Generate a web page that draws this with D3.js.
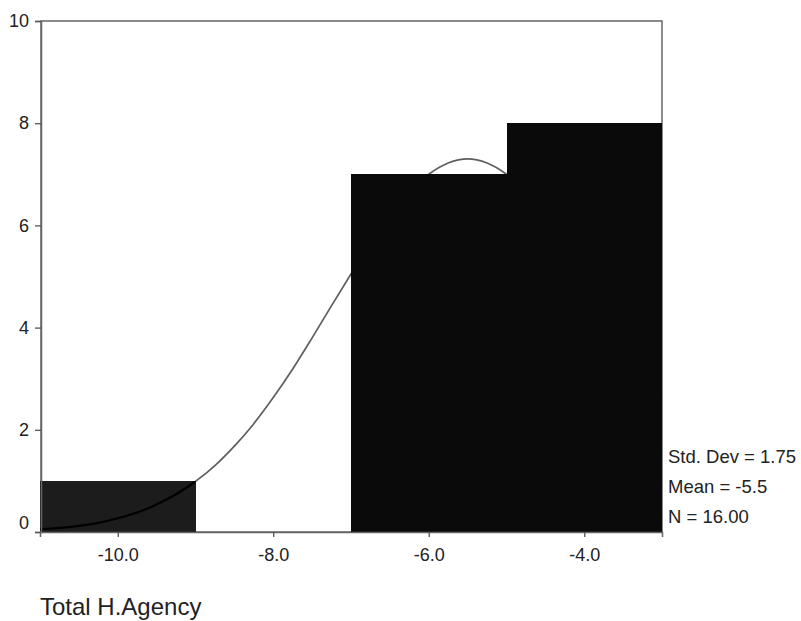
<!DOCTYPE html>
<html><head><meta charset="utf-8">
<script src="https://cdn.jsdelivr.net/npm/d3@7"></script>
<style>body{margin:0;background:#fff}svg{display:block}</style>
</head><body>
<svg id="c" width="801" height="621"></svg>
<script>
// Histogram bins (lower edge, upper edge) and counts
const binStart = [-11, -9, -7, -5];
const binEnd   = [-9, -7, -5, -3];
const counts   = [1, 0, 7, 8];
// Normal curve points
const curveX = [-11,-10.75,-10.5,-10.25,-10,-9.75,-9.5,-9.25,-9,-8.75,-8.5,-8.25,-8,-7.75,-7.5,-7.25,-7,-6.75,-6.5,-6.25,-6,-5.75,-5.5,-5.25,-5,-4.75,-4.5,-4.25,-4,-3.75,-3.5,-3.25,-3];
const curveY = [0.05,0.08,0.12,0.18,0.27,0.38,0.54,0.74,0.99,1.30,1.68,2.12,2.63,3.19,3.80,4.43,5.05,5.65,6.20,6.66,7.00,7.22,7.30,7.22,7.00,6.66,6.20,5.65,5.05,4.43,3.80,3.19,2.63];
const xTicks = [-10, -8, -6, -4];
const yTicks = [0, 2, 4, 6, 8, 10];
const statsLines = ["Std. Dev = 1.75", "Mean = -5.5", "N = 16.00"];
const xTitle = "Total H.Agency";

const svg = d3.select("#c");
const L = 41, R = 662, T = 21, B = 532;
const x = d3.scaleLinear().domain([-11, -3]).range([L - 1, R]);
const y = d3.scaleLinear().domain([0, 10]).range([B, T]);
const font = "'Liberation Sans', Arial, sans-serif";

// frame
svg.append("rect").attr("x", L).attr("y", T).attr("width", R - L).attr("height", B - T)
  .attr("fill", "none").attr("stroke", "#666").attr("stroke-width", 1.5);

const bins = counts.map((c, i) => ({a: binStart[i], b: binEnd[i], c}));

const pts = curveX.map((v, i) => [v, curveY[i]]);
const line = d3.line().x(d => x(d[0])).y(d => y(d[1])).curve(d3.curveCatmullRom);
svg.append("path").attr("d", line(pts)).attr("fill", "none")
  .attr("stroke", "#5e5e5e").attr("stroke-width", 1.7);

svg.append("g").attr("shape-rendering", "crispEdges")
  .selectAll("rect").data(bins.filter(d => d.c > 0)).join("rect")
  .attr("x", d => x(d.a)).attr("y", d => y(d.c))
  .attr("width", d => x(d.b) - x(d.a)).attr("height", d => y(0) - y(d.c))
  .attr("fill", (d, i) => i === 0 ? "#1c1c1c" : "#0a0a0a");

// curve visible through the first (lighter) bar only
svg.append("defs").append("clipPath").attr("id", "barclip")
  .selectAll("rect").data(bins.filter((d, i) => i === 0)).join("rect")
  .attr("x", d => x(d.a)).attr("y", d => y(d.c))
  .attr("width", d => x(d.b) - x(d.a)).attr("height", d => y(0) - y(d.c));
svg.append("path").attr("d", line(pts)).attr("fill", "none")
  .attr("clip-path", "url(#barclip)")
  .attr("stroke", "#000").attr("stroke-width", 2.2);

// axes
const yAxis = svg.append("g").attr("transform", `translate(${L},0)`)
  .call(d3.axisLeft(y).tickValues(yTicks).tickFormat(d3.format("d")).tickSize(6).tickPadding(6));
const xAxis = svg.append("g").attr("transform", `translate(0,${B})`)
  .call(d3.axisBottom(x).tickValues(xTicks).tickFormat(d3.format(".1f")).tickSize(5).tickPadding(11));
[yAxis, xAxis].forEach(g => {
  g.select(".domain").attr("stroke", "#666").attr("stroke-width", 1.5);
  g.selectAll(".tick line").attr("stroke", "#555").attr("stroke-width", 1.3);
  g.selectAll(".tick text").attr("fill", "#222").style("font-family", font).style("font-size", "18px");
});
xAxis.selectAll(".tick text").text(d => d3.format(".1f")(d).replace("−", "-"));
yAxis.selectAll(".tick").filter(d => d === 0).select("text").attr("y", -9);

// stats
svg.append("g").selectAll("text").data(statsLines).join("text")
  .attr("x", 668).attr("y", (d, i) => 463 + i * 30)
  .attr("fill", "#222").style("font-family", font).style("font-size", "18.5px")
  .text(d => d);

svg.append("text").attr("x", 40).attr("y", 615).attr("fill", "#222")
  .style("font-family", font).style("font-size", "24px").text(xTitle);
</script>
</body></html>
